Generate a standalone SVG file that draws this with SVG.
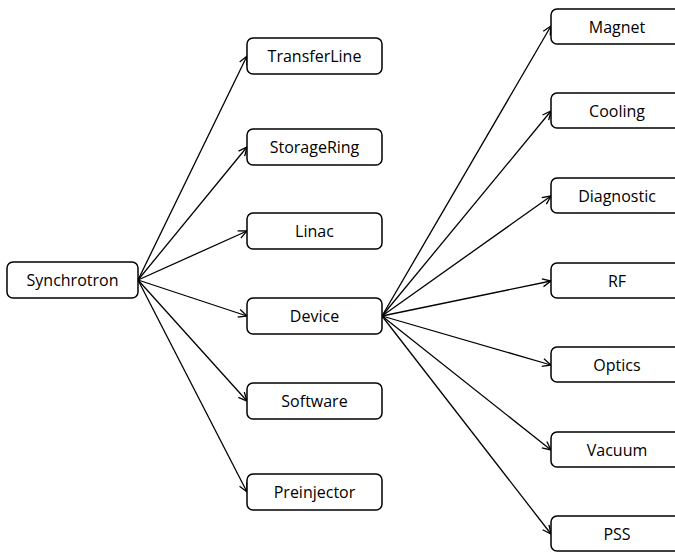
<svg xmlns="http://www.w3.org/2000/svg" width="675" height="552" viewBox="0 0 675 552">
<defs>
<marker id="arr" viewBox="0 0 10 10" refX="9.5" refY="5" markerWidth="10" markerHeight="10" markerUnits="userSpaceOnUse" orient="auto">
<path d="M1,1 L9.5,5 L1,9" fill="none" stroke="#000" stroke-width="1.3"/>
</marker>
<style>
.box{fill:#fff;stroke:#000;stroke-width:1.5}
.lbl{font-family:"Open Sans","Liberation Sans",Arial,sans-serif;font-size:16px;fill:#000;text-anchor:middle;dominant-baseline:central}
.c{stroke:#000;stroke-width:1.3;fill:none;marker-end:url(#arr)}
</style>
</defs>
<rect width="675" height="552" fill="#fff"/>
<g id="connectors">
<line class="c" x1="138" y1="280" x2="247" y2="56"/>
<line class="c" x1="138" y1="280" x2="247" y2="147"/>
<line class="c" x1="138" y1="280" x2="247" y2="231"/>
<line class="c" x1="138" y1="280" x2="247" y2="316"/>
<line class="c" x1="138" y1="280" x2="247" y2="401"/>
<line class="c" x1="138" y1="280" x2="247" y2="492"/>
<line class="c" x1="382" y1="316" x2="551" y2="26"/>
<line class="c" x1="382" y1="316" x2="551" y2="111"/>
<line class="c" x1="382" y1="316" x2="551" y2="196"/>
<line class="c" x1="382" y1="316" x2="551" y2="281"/>
<line class="c" x1="382" y1="316" x2="551" y2="365"/>
<line class="c" x1="382" y1="316" x2="551" y2="450"/>
<line class="c" x1="382" y1="316" x2="551" y2="534"/>
</g>
<g id="Synchrotron"><rect class="box" x="7" y="262" width="131" height="36" rx="6"/><text class="lbl" x="72.5" y="280">Synchrotron</text></g>
<g id="TransferLine"><rect class="box" x="247" y="38" width="135" height="36" rx="6"/><text class="lbl" x="314.5" y="56">TransferLine</text></g>
<g id="StorageRing"><rect class="box" x="247" y="129" width="135" height="36" rx="6"/><text class="lbl" x="314.5" y="147">StorageRing</text></g>
<g id="Linac"><rect class="box" x="247" y="213" width="135" height="36" rx="6"/><text class="lbl" x="314.5" y="231">Linac</text></g>
<g id="Device"><rect class="box" x="247" y="298" width="135" height="36" rx="6"/><text class="lbl" x="314.5" y="316">Device</text></g>
<g id="Software"><rect class="box" x="247" y="383" width="135" height="36" rx="6"/><text class="lbl" x="314.5" y="401">Software</text></g>
<g id="Preinjector"><rect class="box" x="247" y="474" width="135" height="36" rx="6"/><text class="lbl" x="314.5" y="492">Preinjector</text></g>
<g id="Magnet"><rect class="box" x="551" y="9" width="133" height="35" rx="6"/><text class="lbl" x="617" y="26.5">Magnet</text></g>
<g id="Cooling"><rect class="box" x="551" y="93" width="133" height="35" rx="6"/><text class="lbl" x="617" y="110.5">Cooling</text></g>
<g id="Diagnostic"><rect class="box" x="551" y="178" width="133" height="35" rx="6"/><text class="lbl" x="617" y="195.5">Diagnostic</text></g>
<g id="RF"><rect class="box" x="551" y="263" width="133" height="35" rx="6"/><text class="lbl" x="617" y="280.5">RF</text></g>
<g id="Optics"><rect class="box" x="551" y="347" width="133" height="35" rx="6"/><text class="lbl" x="617" y="364.5">Optics</text></g>
<g id="Vacuum"><rect class="box" x="551" y="432" width="133" height="35" rx="6"/><text class="lbl" x="617" y="449.5">Vacuum</text></g>
<g id="PSS"><rect class="box" x="551" y="516" width="133" height="35" rx="6"/><text class="lbl" x="617" y="533.5">PSS</text></g>
</svg>
